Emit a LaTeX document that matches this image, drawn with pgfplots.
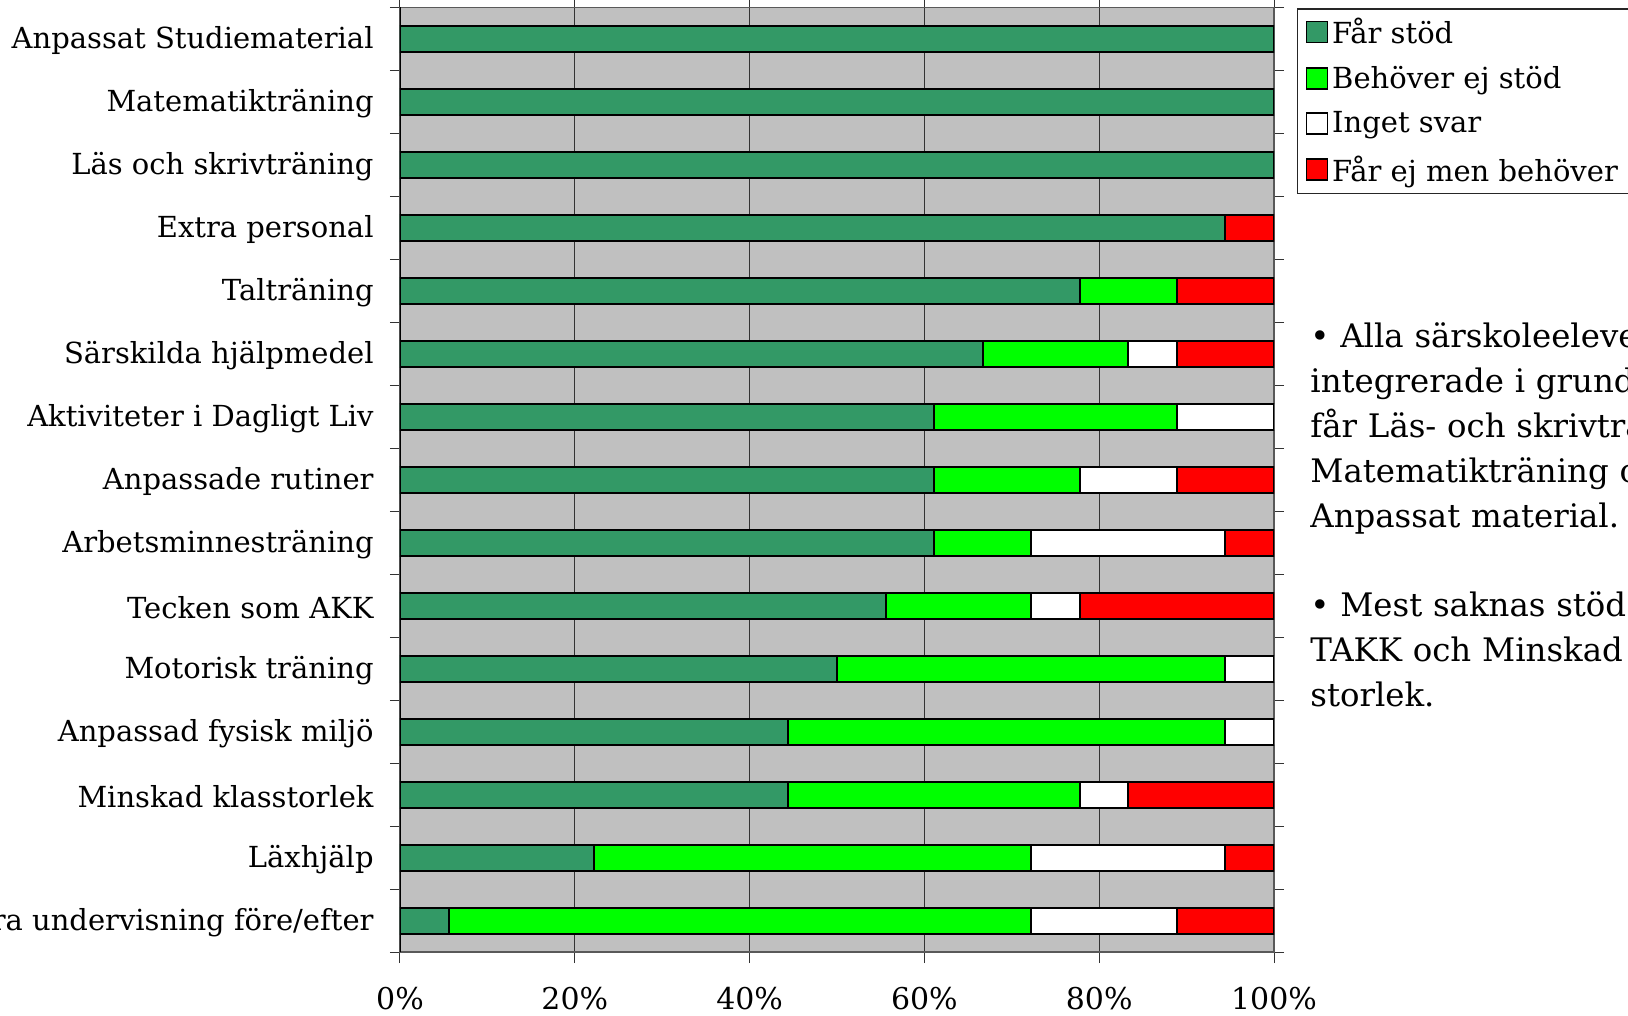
\documentclass[border=0pt]{standalone}
\usepackage{pgfplots}
\pgfplotsset{compat=1.18}
\usepackage{fontspec}
\setmainfont{DejaVu Serif}
\definecolor{fstod}{HTML}{339966}
\definecolor{bstod}{HTML}{00FF00}
\definecolor{fejm}{HTML}{FF0000}
\definecolor{bgg}{HTML}{C0C0C0}
\begin{document}
\begin{tikzpicture}[font=\fontsize{14.5pt}{17pt}\selectfont]
\useasboundingbox (0pt,0pt) rectangle (814pt,-508pt);
\clip (0pt,0pt) rectangle (814pt,-508pt);
\begin{axis}[
  at={(200pt,-476pt)}, anchor=south west,
  scale only axis, width=437pt, height=472.25pt,
  xbar stacked, bar width=13pt,
  xmin=0, xmax=100, ymin=-0.5, ymax=14.5,
  axis background/.style={fill=bgg},
  axis line style={draw=gray!70!black, line width=0.6pt},
  xtick={0,20,40,60,80,100},
  xticklabels={0\%,20\%,40\%,60\%,80\%,100\%},
  xmajorgrids, grid style={draw=gray!40!black, line width=0.5pt},
  ytick={0,...,14},
  yticklabels={Extra undervisning före/efter,Läxhjälp,Minskad klasstorlek,Anpassad fysisk miljö,Motorisk träning,Tecken som AKK,Arbetsminnesträning,Anpassade rutiner,Aktiviteter i Dagligt Liv,Särskilda hjälpmedel,Talträning,Extra personal,Läs och skrivträning,Matematikträning,Anpassat Studiematerial},
  minor ytick={-0.5,0.5,...,14.5},
  tick align=outside, major tick length=5.5pt, minor tick length=5pt,
  every major y tick/.append style={draw=none},
  every minor y tick/.append style={draw=gray!40!black, line width=0.5pt},
  every major x tick/.append style={draw=gray!40!black, line width=0.5pt},
  yticklabel style={anchor=east, inner sep=0pt, xshift=-7.5pt, yshift=-1pt},
  xticklabel style={anchor=base, inner sep=0pt, yshift=-23pt, font=\fontsize{15pt}{18pt}\selectfont},
  every axis plot/.append style={draw=black, line width=1pt},
  legend style={at={(1,1)}, anchor=north west, xshift=11.5pt, yshift=-0.5pt,
    draw=gray!30!black, line width=0.6pt, fill=white,
    cells={anchor=west}, row sep=6pt, inner xsep=4pt, inner ysep=2.5pt,
    nodes={inner sep=2pt}},
  legend image code/.code={\draw[#1, draw=black, line width=0.8pt] (0pt,-5pt) rectangle (10.5pt,5.5pt);},
]
\addplot[fill=fstod] coordinates {(5.56,0) (22.22,1) (44.44,2) (44.44,3) (50,4) (55.56,5) (61.11,6) (61.11,7) (61.11,8) (66.67,9) (77.78,10) (94.44,11) (100,12) (100,13) (100,14)};
\addplot[fill=bstod] coordinates {(66.67,0) (50,1) (33.33,2) (50,3) (44.44,4) (16.67,5) (11.11,6) (16.67,7) (27.78,8) (16.67,9) (11.11,10) (0,11) (0,12) (0,13) (0,14)};
\addplot[fill=white] coordinates {(16.67,0) (22.22,1) (5.56,2) (5.56,3) (5.56,4) (5.56,5) (22.22,6) (11.11,7) (11.11,8) (5.56,9) (0,10) (0,11) (0,12) (0,13) (0,14)};
\addplot[fill=fejm] coordinates {(11.11,0) (5.56,1) (16.67,2) (0,3) (0,4) (22.22,5) (5.56,6) (11.11,7) (0,8) (11.11,9) (11.11,10) (5.56,11) (0,12) (0,13) (0,14)};
\legend{Får stöd,Behöver ej stöd,Inget svar,Får ej men behöver}
\draw[black, line width=0.7pt] (rel axis cs:0,0) -- (rel axis cs:0,1);
\end{axis}
\node[anchor=base west, align=left, text width=400pt, inner sep=0pt,
  font=\fontsize{16.2pt}{22.4pt}\selectfont] at (655pt,-174pt)
  {• Alla särskoleelever som är\\
   integrerade i grundskolan\\
   får Läs- och skrivträning,\\
   Matematikträning och\\
   Anpassat material.\\[22.4pt]
   • Mest saknas stöd i\\
   TAKK och Minskad klass-\\
   storlek.};
\end{tikzpicture}
\end{document}
